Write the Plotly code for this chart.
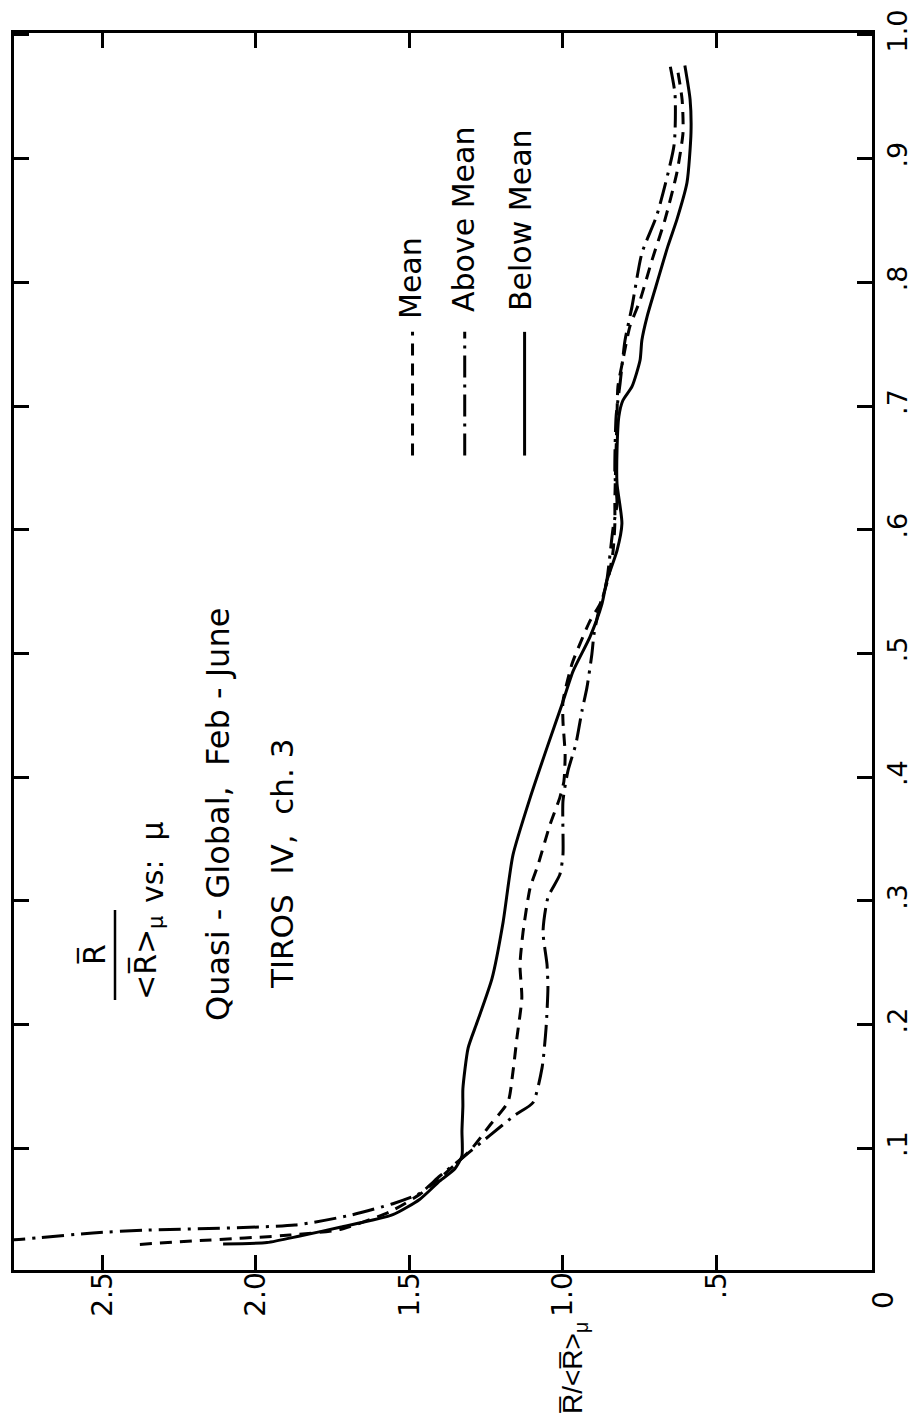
import plotly.graph_objects as go

# ---------------- data (mu = cosine of zenith angle, ratio = R / <R>_mu) ----------------
below_mu = [0.0226, 0.0238, 0.0291, 0.0361, 0.0463, 0.0588, 0.0736, 0.0834, 0.0939, 0.114,
            0.134, 0.148, 0.181, 0.2016, 0.2374, 0.2828, 0.337, 0.3833, 0.4239, 0.4589,
            0.4857, 0.5134, 0.5402, 0.5589, 0.5832, 0.6051, 0.6374, 0.6641, 0.6916, 0.7045,
            0.7159, 0.737, 0.7533, 0.7724, 0.7995, 0.8295, 0.8507, 0.8807, 0.9212, 0.9479, 0.9753]
below_ratio = [2.107, 1.964, 1.857, 1.726, 1.554, 1.466, 1.401, 1.352, 1.329, 1.329,
               1.326, 1.326, 1.309, 1.280, 1.231, 1.195, 1.163, 1.107, 1.052, 1.003,
               0.967, 0.912, 0.873, 0.857, 0.824, 0.808, 0.824, 0.824, 0.818, 0.805,
               0.775, 0.749, 0.743, 0.726, 0.694, 0.658, 0.629, 0.596, 0.583, 0.586, 0.603]

mean_mu = [0.0223, 0.0254, 0.0298, 0.0344, 0.0487, 0.0628, 0.076, 0.0981, 0.1186, 0.1374,
           0.1617, 0.1892, 0.2216, 0.2483, 0.2749, 0.3106, 0.3293, 0.3618, 0.3837, 0.3966,
           0.4184, 0.4451, 0.4613, 0.4913, 0.5076, 0.5264, 0.5402, 0.5605, 0.5824, 0.605,
           0.6236, 0.664, 0.6916, 0.7158, 0.7369, 0.7644, 0.7855, 0.818, 0.8505, 0.8887,
           0.9211, 0.9478, 0.9752]
mean_ratio = [2.378, 2.182, 1.889, 1.726, 1.564, 1.466, 1.401, 1.303, 1.238, 1.179,
              1.163, 1.150, 1.134, 1.140, 1.130, 1.107, 1.081, 1.042, 1.010, 0.997,
              0.993, 1.000, 1.000, 0.971, 0.945, 0.912, 0.879, 0.853, 0.837, 0.831,
              0.831, 0.827, 0.824, 0.821, 0.805, 0.782, 0.749, 0.710, 0.668, 0.629,
              0.609, 0.612, 0.629]

above_mu = [0.0245, 0.0258, 0.0277, 0.0316, 0.0338, 0.0379, 0.0458, 0.0552, 0.0636, 0.0776,
            0.094, 0.1104, 0.1269, 0.1368, 0.1652, 0.1976, 0.23, 0.2486, 0.2752, 0.3027,
            0.3214, 0.3376, 0.3806, 0.4049, 0.4269, 0.4537, 0.4724, 0.4992, 0.5154, 0.5318,
            0.5456, 0.5595, 0.601, 0.6213, 0.6454, 0.6915, 0.7183, 0.753, 0.7806, 0.8236,
            0.8545, 0.9113, 0.9518, 0.9751]
above_ratio = [2.95, 2.801, 2.704, 2.531, 2.362, 1.873, 1.694, 1.554, 1.466, 1.401,
               1.319, 1.238, 1.156, 1.098, 1.068, 1.055, 1.049, 1.052, 1.065, 1.049,
               1.010, 1.000, 1.000, 0.984, 0.958, 0.938, 0.922, 0.906, 0.899, 0.886,
               0.870, 0.857, 0.837, 0.824, 0.831, 0.827, 0.814, 0.798, 0.775, 0.743,
               0.694, 0.638, 0.635, 0.651]

ratio_ticks = [0.5, 1.0, 1.5, 2.0, 2.5]
ratio_labels = [".5", "1.0", "1.5", "2.0", "2.5"]
mu_ticks = [0.1, 0.2, 0.3, 0.4, 0.5, 0.6, 0.7, 0.8, 0.9, 1.0]
mu_labels = [".1", ".2", ".3", ".4", ".5", ".6", ".7", ".8", ".9", "1.0"]
legend_names = ["Mean", "Above Mean", "Below Mean"]

# ---------------- layout geometry ----------------
W, H = 918, 1417
L, R_, T, B = 14, 872, 33, 1270
FONT = "DejaVu Sans"


def paper(px, py):
    return (px - L) / (R_ - L), (B - py) / (B - T)


DASH_MEAN = "12px,8px"
DASH_ABOVE = "22px,7px,3px,7px"
LW = 3

fig = go.Figure()
for mu, ratio, dash in [(mean_mu, mean_ratio, DASH_MEAN),
                        (above_mu, above_ratio, DASH_ABOVE),
                        (below_mu, below_ratio, "solid")]:
    fig.add_trace(go.Scatter(x=ratio, y=mu, mode="lines",
                             line=dict(color="black", width=LW, dash=dash,
                                       shape="spline", smoothing=0.6),
                             showlegend=False, hoverinfo="skip"))

# legend sample lines (drawn in data space, vertical in this rotated layout)
legend_x = [1.49, 1.32, 1.125]
for lx, dash in zip(legend_x, [DASH_MEAN, DASH_ABOVE, "solid"]):
    fig.add_trace(go.Scatter(x=[lx, lx], y=[0.66, 0.76], mode="lines",
                             line=dict(color="black", width=LW, dash=dash),
                             showlegend=False, hoverinfo="skip"))

annotations = []


def add_text(text, px, py, size=28, angle=-90, family=FONT):
    xp, yp = paper(px, py)
    annotations.append(dict(text=text, x=xp, y=yp, xref="paper", yref="paper",
                            showarrow=False, textangle=angle, xanchor="center",
                            yanchor="middle",
                            font=dict(family=family, size=size, color="black")))


add_text(legend_names[0], 410, 278, 30)
add_text(legend_names[1], 463, 220, 30)
add_text(legend_names[2], 520, 220, 30)
add_text("R\u0305", 94, 955, 30)
add_text("&lt;R\u0305&gt;<sub>\u03bc</sub>", 147, 958, 30)
add_text("vs:  \u03bc", 152, 862, 30)
add_text("Quasi - Global,  Feb - June", 218, 815, 32)
add_text("TIROS  IV,  ch. 3", 282, 864, 31)
add_text("R\u0305/&lt;R\u0305&gt;<sub>\u03bc</sub>", 574, 1368, 28, family="Liberation Sans")
add_text("0", 883, 1300, 28)

x0, y0 = paper(115, 1000)
x1, y1 = paper(115, 910)
shapes = [dict(type="line", xref="paper", yref="paper", x0=x0, y0=y0, x1=x1, y1=y1,
               line=dict(color="black", width=2.5))]

fig.update_layout(
    width=W, height=H,
    margin=dict(l=L, r=W - R_, t=T, b=H - B, autoexpand=False),
    paper_bgcolor="white", plot_bgcolor="white",
    showlegend=False,
    annotations=annotations,
    shapes=shapes,
    font=dict(family=FONT, color="black"),
)
fig.update_xaxes(range=[2.788, -0.0065], tickvals=ratio_ticks, ticktext=ratio_labels,
                 ticks="inside", ticklen=15, tickwidth=2.5, tickcolor="black",
                 tickangle=-90, tickfont=dict(family=FONT, size=28, color="black"),
                 ticklabelstandoff=-12, automargin=False,
                 showline=True, linecolor="black", linewidth=3, mirror="ticks",
                 showgrid=False, zeroline=False)
fig.update_yaxes(range=[0.0016, 1.0016], tickvals=mu_ticks, ticktext=mu_labels,
                 side="right", ticks="inside", ticklen=15, tickwidth=2.5, tickcolor="black",
                 tickangle=-90, tickfont=dict(family=FONT, size=27, color="black"),
                 ticklabelstandoff=0, automargin=False,
                 showline=True, linecolor="black", linewidth=3, mirror="ticks",
                 showgrid=False, zeroline=False)

fig.write_html("out.html")
